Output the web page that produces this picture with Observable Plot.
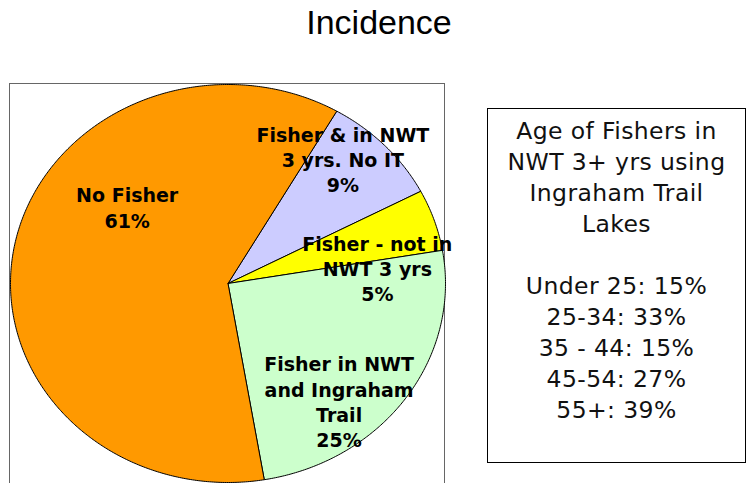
<!DOCTYPE html>
<html>
<head>
<meta charset="utf-8">
<script src="https://cdn.jsdelivr.net/npm/d3@7"></script>
<script src="https://cdn.jsdelivr.net/npm/@observablehq/plot@0.6"></script>
<style>
  html, body { margin: 0; padding: 0; background: #fff; }
  #wrap { position: relative; width: 747px; height: 483px; overflow: hidden; }
  #title { position: absolute; left: 0; width: 758px; top: 3px; text-align: center;
           font-family: "Liberation Sans", Arial, sans-serif; font-size: 34px; color: #000; }
  #pieBox { position: absolute; left: 9px; top: 83px; width: 436px; height: 430px;
            border: 1.5px solid #666; box-sizing: border-box; }
  #legend { position: absolute; left: 487px; top: 108px; width: 259px; height: 355px;
            border: 1.5px solid #000; box-sizing: border-box; text-align: center;
            font-family: "DejaVu Sans", sans-serif; font-size: 23.5px; line-height: 31px;
            letter-spacing: 0.4px; padding-top: 7px; color: #111; }
  #chart { position: absolute; left: 0; top: 0; }
</style>
</head>
<body>
<div id="wrap">
  <div id="pieBox"></div>
  <div id="chart"></div>
  <div id="title"></div>
  <div id="legend"></div>
</div>
<script>
// ---- data ----
const chartTitle = "Incidence";
const sliceLabels = [
  "Fisher & in NWT\n3 yrs. No IT",
  "Fisher - not in\nNWT 3 yrs",
  "Fisher in NWT\nand Ingraham\nTrail",
  "No Fisher"
];
const sliceValues = [9, 5, 25, 61];
const legendTitle = ["Age of Fishers in", "NWT 3+ yrs using", "Ingraham Trail", "Lakes"];
const ageGroups = ["Under 25", "25-34", "35 - 44", "45-54", "55+"];
const agePercents = [15, 33, 15, 27, 39];

// ---- styles / layout ----
const sliceColors = ["#CCCCFF", "#FFFF00", "#CCFFCC", "#FF9900"];
const firstSliceAngle = 30; // degrees clockwise from 12 o'clock
const labelNudge = [[5, -28], [5, 29], [-13, 37], [49, -52]];

// ---- build pie geometry from values ----
const total = d3.sum(sliceValues);
const rad = Math.PI / 180;
let acc = firstSliceAngle * rad;
const arcs = sliceValues.map((v, i) => {
  const a0 = acc, a1 = acc + v / total * 2 * Math.PI;
  acc = a1;
  return {label: sliceLabels[i], value: v, a0, a1, i};
});
const outline = [];
for (const s of arcs) {
  outline.push({slice: s.label, x: 0, y: 0});
  const n = Math.max(2, Math.ceil((s.a1 - s.a0) / (0.5 * rad)));
  for (let k = 0; k <= n; k++) {
    const a = s.a0 + (s.a1 - s.a0) * k / n;
    outline.push({slice: s.label, x: Math.sin(a), y: Math.cos(a)});
  }
  outline.push({slice: s.label, x: 0, y: 0});
}
const labels = arcs.map(s => {
  const m = (s.a0 + s.a1) / 2;
  return {
    text: s.label + "\n" + Math.round(s.value / total * 100) + "%",
    x: 0.7 * Math.sin(m), y: 0.7 * Math.cos(m),
    dx: labelNudge[s.i][0], dy: labelNudge[s.i][1]
  };
});

const plot = Plot.plot({
  width: 747, height: 483,
  margin: 0,
  x: {domain: [-1, 1], range: [10, 445], axis: null},
  y: {domain: [-1, 1], range: [482, 84], axis: null},
  color: {type: "ordinal", domain: sliceLabels, range: sliceColors},
  style: {background: "transparent", overflow: "visible"},
  marks: [
    Plot.line(outline, {x: "x", y: "y", z: "slice", fill: "slice", stroke: "#000", strokeWidth: 1, curve: "linear"}),
    ...labels.map(l => Plot.text([l], {
      x: "x", y: "y", text: "text", dx: l.dx, dy: l.dy,
      fontFamily: "DejaVu Sans", fontWeight: "bold", fontSize: 19,
      lineHeight: 1.33, fill: "#000"
    }))
  ]
});
document.getElementById("chart").appendChild(plot);
document.getElementById("title").textContent = chartTitle;
const lg = document.getElementById("legend");
lg.innerHTML = legendTitle.join("<br>") + "<br><br>" +
  ageGroups.map((g, i) => g + ": " + agePercents[i] + "%").join("<br>");
</script>
</body>
</html>
